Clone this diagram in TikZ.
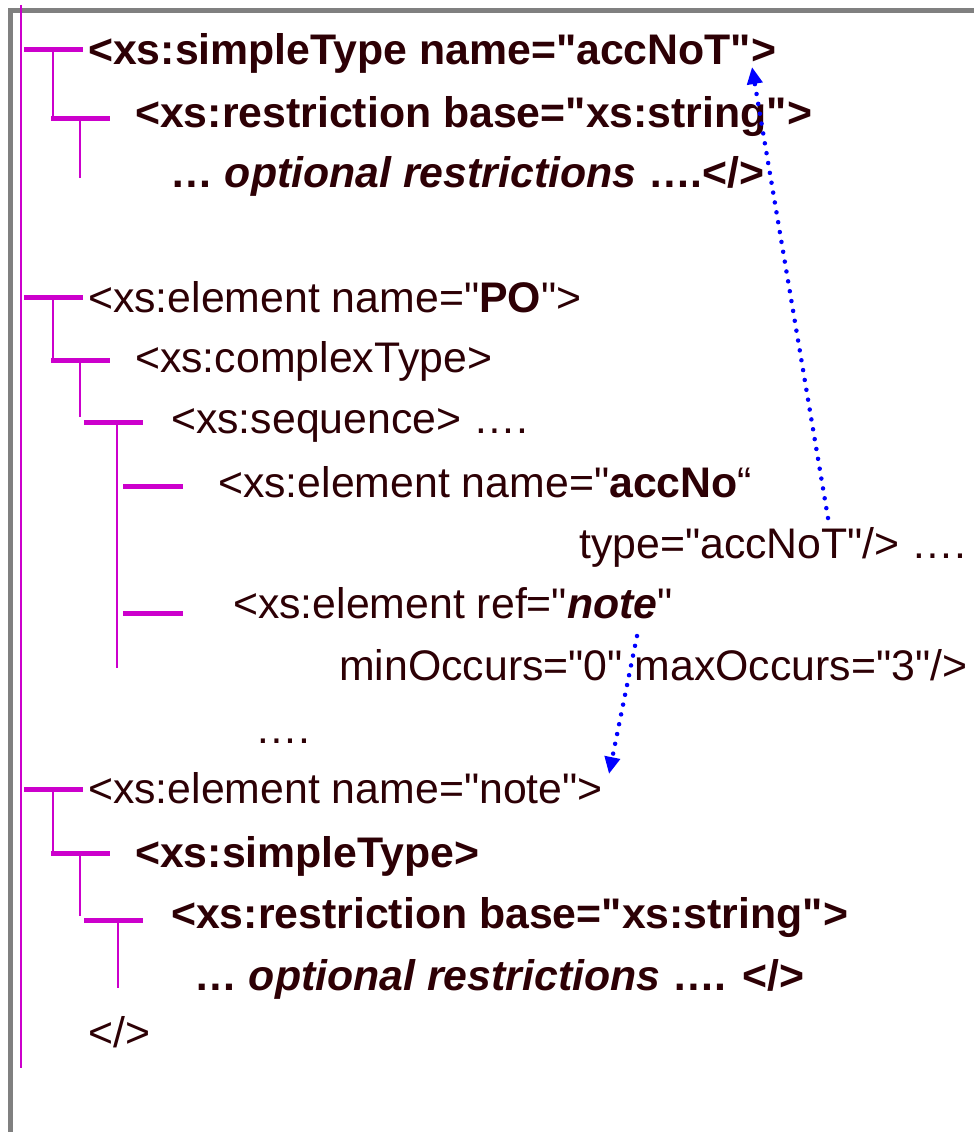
\documentclass[tikz,border=0pt]{standalone}
\usepackage{fontspec}
\newfontfamily\codefont{Liberation Sans}
\usetikzlibrary{arrows.meta}
\definecolor{mag}{RGB}{204,0,204}
\definecolor{txt}{RGB}{45,0,5}
\definecolor{framegray}{RGB}{128,128,128}
\definecolor{refblue}{RGB}{0,0,255}
\begin{document}
\begin{tikzpicture}[x=1pt,y=-1pt,
  code/.style={anchor=base west, inner sep=0pt, text=txt, font=\codefont\fontsize{42.8}{50}\selectfont},
  branch/.style={mag, line width=5pt},
  stem/.style={mag, line width=2.2pt},
  refarrow/.style={refblue, line width=4.5pt, dash pattern=on 0pt off 10pt, line cap=round, -{Triangle[length=17pt,width=15pt]}}]
\useasboundingbox (0,0) rectangle (974,1132);
\fill[white] (0,0) rectangle (974,1132);
\draw[framegray, line width=4.5pt] (10.5,1132) -- (10.5,10.5) -- (974,10.5);
% main spine
\draw[stem, line width=2.5pt] (21,5) -- (21,1068);
% group 1
\draw[branch] (24,50) -- (83,50);
\draw[stem] (53,52) -- (53,120);
\draw[branch] (51,118) -- (110,118);
\draw[stem] (80,120) -- (80,178);
% group 2
\draw[branch] (24,297) -- (83,297);
\draw[stem] (53,297) -- (53,360);
\draw[branch] (51,360) -- (110,360);
\draw[stem] (80,360) -- (80,417);
\draw[branch] (84,422) -- (143,422);
\draw[stem] (117,422) -- (117,668);
\draw[branch] (123,486) -- (183,486);
\draw[branch] (123,613) -- (183,613);
% group 3
\draw[branch] (24,789) -- (83,789);
\draw[stem] (53,789) -- (53,852);
\draw[branch] (51,853) -- (110,853);
\draw[stem] (80,853) -- (80,916);
\draw[branch] (84,920) -- (143,920);
\draw[stem] (118,922) -- (118,988);
% texts
\node[code] (l1) at (88,64) {\textbf{<xs:simpleType name="accNoT">}};
\node[code] (l2) at (135,127) {\textbf{<xs:restriction base="xs:string">}};
\node[code] (l3) at (170,187) {\textbf{… \textit{optional restrictions} ….</>}};
\node[code] (l4) at (88,312) {<xs:element name="\textbf{PO}">};
\node[code] (l5) at (135,372) {<xs:complexType>};
\node[code] (l6) at (171,433) {<xs:sequence> ….};
\node[code] (l7) at (218,497) {<xs:element name="\textbf{accNo}“};
\node[code] (l8) at (579,558) {type="accNoT"/> ….};
\node[code] (l9) at (233,618) {<xs:element ref="\textbf{\textit{note}}"};
\node[code] (l10) at (339,680) {minOccurs="0" maxOccurs="3"/>};
\node[code] (l11) at (255,743) {….};
\node[code] (l12) at (88,803) {<xs:element name="note">};
\node[code] (l13) at (135,867) {\textbf{<xs:simpleType>}};
\node[code] (l14) at (171,928) {\textbf{<xs:restriction base="xs:string">}};
\node[code] (l15) at (194,990) {\textbf{… \textit{optional restrictions} …. </>}};
\node[code] (l16) at (88,1047) {</>};
% reference arrows
\coordinate (s1) at (828,518);
\coordinate (t1) at (752,67);
\coordinate (s2) at (637,636);
\coordinate (t2) at (609,774);
\draw[refarrow] (s1) -- (t1);
\draw[refarrow] (s2) -- (t2);
\end{tikzpicture}
\end{document}
